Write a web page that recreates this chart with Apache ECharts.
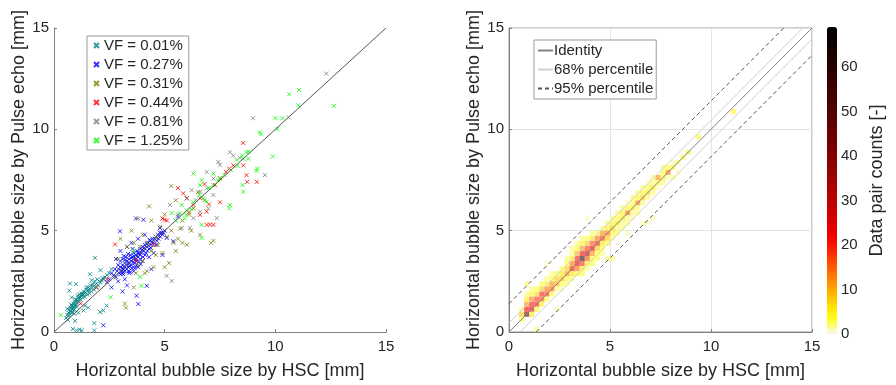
<!DOCTYPE html>
<html>
<head>
<meta charset="utf-8">
<script src="https://cdn.jsdelivr.net/npm/echarts/dist/echarts.min.js"></script>
<style>
html,body{margin:0;padding:0;background:#fff}
#chart{width:896px;height:385px}
</style>
</head>
<body>
<div id="chart"></div>
<script>
// ---- left panel: HSC vs pulse echo, one array per void fraction ----
var vfNames = ['VF = 0.01%', 'VF = 0.27%', 'VF = 0.31%', 'VF = 0.44%', 'VF = 0.81%', 'VF = 1.25%'];
var vfColors = ['#008080', '#0000ff', '#808000', '#ff0000', '#808080', '#00ff00'];

var vf001 = [[0.55,0.7],[0.6,0.85],[0.62,0.6],[0.65,0.95],[0.7,1.1],[0.72,0.9],[0.75,1.2],[0.78,1.05],[0.8,1.3],[0.82,0.95],
  [0.85,1.15],[0.88,1.4],[0.9,1.25],[0.92,1.1],[0.95,1.5],[0.98,1.35],[1.0,1.6],[1.02,1.25],[1.05,1.45],[1.1,1.7],
  [1.12,1.5],[1.15,1.85],[1.2,1.6],[1.25,1.9],[1.3,1.7],[1.35,2.0],[1.4,1.75],[1.45,2.1],[1.5,1.85],[1.55,2.2],
  [1.6,1.9],[1.65,2.3],[1.7,2.0],[1.75,2.35],[1.8,2.1],[1.85,2.5],[1.9,2.2],[1.95,2.6],[2.0,2.3],[2.1,2.45],
  [2.2,2.65],[2.3,2.7],[2.4,2.8],[2.5,2.9],[0.72,2.39],[0.99,2.36],[0.69,2.04],[0.8,1.71],[1.3,1.87],[1.48,2.2],
  [1.63,2.85],[1.85,3.66],[0.92,0.9],[1.33,1.06],[1.02,0.08],[1.25,0.08],[1.82,0.44],[1.82,0.08],[2.08,0.98],[2.23,1.06],
  [2.38,1.3],[1.15,0.12],[0.95,0.55],[1.55,1.2],[1.1,0.95],[2.1,3.05],[0.85,0.15],[1.4,1.3],[2.6,3.1],[1.7,2.55],[0.6,1.15],
  [0.68,0.8],[0.74,1.0],[0.83,1.1],[0.87,1.25],[0.93,1.3],[1.0,1.4],[1.07,1.55],[1.13,1.6],[1.18,1.72],[1.22,1.78],
  [1.28,1.8],[1.33,1.85],[1.38,1.9],[1.43,1.95],[1.52,2.05],[1.58,2.05],[1.68,2.15],[1.78,2.25],[1.88,2.35],[2.05,2.5],
  [2.15,2.55],[2.25,2.6],[0.78,1.35],[0.97,1.6],[1.08,1.8]];
var vf027 = [[2.5,2.6],[2.6,2.9],[2.7,2.8],[2.75,3.1],[2.8,2.7],[2.85,3.0],[2.9,3.3],[2.95,2.9],[3.0,3.2],[3.0,3.5],
  [3.05,3.0],[3.1,3.3],[3.1,3.6],[3.15,3.1],[3.2,3.4],[3.2,3.0],[3.25,3.7],[3.3,3.3],[3.3,3.5],[3.35,3.2],
  [3.4,3.6],[3.4,3.4],[3.45,3.8],[3.5,3.5],[3.5,3.3],[3.55,3.7],[3.6,3.6],[3.6,3.9],[3.65,3.4],[3.7,3.8],
  [3.7,3.6],[3.75,4.0],[3.8,3.7],[3.85,3.9],[3.9,4.1],[3.9,3.6],[3.95,3.9],[4.0,4.2],[4.05,4.0],[4.1,4.3],
  [4.15,3.9],[4.2,4.2],[4.25,4.4],[4.3,4.1],[4.35,4.5],[4.4,4.3],[4.45,4.6],[4.5,4.4],[4.6,4.7],[4.65,4.5],
  [4.7,4.8],[4.8,4.7],[4.85,4.9],[4.9,4.8],[5.0,5.0],[3.2,2.6],[3.4,2.9],[3.6,3.0],[3.8,3.2],[4.0,3.5],
  [4.3,3.7],[4.5,3.9],[2.8,3.6],[3.0,4.0],[3.3,4.2],[3.5,4.4],[3.8,4.6],[4.1,4.8],[2.6,2.2],[2.9,2.5],
  [3.81,1.38],[3.73,1.79],[4.19,2.28],[3.13,2.85],[2.98,4.97],[4.04,5.54],[4.79,5.13],[2.23,0.33],[5.09,4.64],[5.39,4.48],
  [3.7,5.6],[4.4,3.1],[4.9,3.8],[5.6,5.7],[3.3,2.3],[2.4,2.45],[3.1,2.0],
  [2.92,3.1],[3.02,2.85],[3.08,3.15],[3.12,2.95],[3.18,3.25],[3.22,3.55],[3.28,3.1],[3.32,3.4],[3.38,3.0],[3.42,3.25],
  [3.48,3.65],[3.52,3.15],[3.58,3.45],[3.62,3.75],[3.68,3.25],[3.72,3.5],[3.78,3.9],[3.82,3.45],[3.88,3.8],[3.92,3.35],
  [3.98,4.05],[4.02,3.7],[4.08,4.15],[4.12,3.8],[4.18,4.35],[4.22,4.0],[4.28,4.25],[4.32,4.55],[4.38,4.15],[4.42,4.45],
  [4.55,4.6],[4.62,4.3],[4.72,4.6],[4.78,4.9],[4.95,4.9],[3.35,3.85],[3.55,4.1],[3.15,3.75],[3.65,3.15],[3.45,2.95]];
var vf031 = [[3.2,1.4],[3.25,1.2],[3.6,2.2],[4.0,3.5],[4.2,3.0],[4.5,3.2],[4.6,3.8],[5.0,3.2],[5.2,3.4],[5.5,4.0],
  [5.6,4.6],[5.8,4.4],[6.2,5.0],[7.1,4.4],[7.2,4.5],[6.6,4.8],[6.0,4.3],[5.3,7.2],[4.3,6.2],[4.4,5.5],
  [3.8,5.6],[3.5,5.0],[3.0,4.6],[3.3,4.2],[3.6,4.4],[4.0,4.8],[4.8,5.2],[5.0,5.8],[5.5,6.5],[6.0,6.6],
  [6.5,6.9],[2.9,3.6],[2.7,2.7],[3.8,3.3],[4.2,4.4],[4.6,4.7],[5.3,5.0],[5.8,5.5],[6.3,6.1],[6.8,6.5],
  [3.7,2.9],[4.1,2.9],[4.9,3.9],[5.4,4.4],[6.1,5.8],[5.7,5.1],[3.9,4.2],[4.4,4.0],[4.7,4.3],[5.1,4.7]];
var vf044 = [[2.76,4.32],[5.84,6.84],[6.9,5.94],[6.9,5.29],[7.2,5.29],[7.05,5.3],[7.92,8.06],[8.55,8.22],[8.7,7.74],[8.73,7.41],
  [9.16,7.41],[8.55,9.33],[8.1,8.22],[7.77,7.9],[7.5,7.57],[7.27,7.25],[6.6,6.6],[6.3,6.27],[6.0,6.6],[6.6,5.78],
  [5.0,5.54],[1.93,2.2],[3.7,3.5],[5.1,5.5],[5.6,7.1],[7.5,6.4],[4.5,4.3],[6.8,7.3],[2.4,2.6],[1.2,1.4],
  [6.1,5.9],[7.0,6.3],[4.9,5.6]];
var vf081 = [[12.3,12.75],[9.0,10.55],[10.6,10.59],[9.53,7.74],[7.42,8.39],[7.5,8.25],[7.2,7.57],[6.9,7.08],[6.6,6.92],[6.22,7.0],
  [6.0,6.6],[7.2,6.76],[7.35,5.62],[6.97,6.1],[6.6,5.94],[6.3,5.62],[6.14,5.13],[5.77,5.13],[5.09,2.77],[5.32,2.52],
  [5.24,6.27],[5.6,5.8],[1.93,2.2],[6.9,7.9],[8.1,8.71],[7.95,8.87],[8.4,8.6],[6.4,6.5],[3.2,3.4],[2.9,3.1]];
var vf125 = [[10.63,11.73],[11.07,11.94],[11.04,11.19],[12.65,11.16],[10.0,10.55],[10.33,10.55],[10.09,10.02],[9.3,9.85],[9.35,9.75],[9.88,8.66],
  [9.19,8.06],[9.15,7.95],[8.78,8.55],[8.7,8.88],[8.55,8.55],[8.25,8.49],[8.52,7.25],[8.55,6.92],[7.95,6.27],[7.92,6.1],
  [7.42,7.49],[7.2,7.25],[7.2,7.82],[6.67,7.49],[6.6,7.25],[6.3,7.82],[6.57,6.76],[6.75,6.6],[6.9,6.43],[6.67,5.29],
  [6.67,4.64],[5.99,5.78],[5.69,5.86],[5.32,5.86],[5.77,6.27],[3.89,2.72],[0.3,0.83],[2.56,1.71],[3.95,2.28],[5.5,5.5],
  [6.0,6.0],[6.3,6.4],[7.0,7.1],[7.5,7.6],[8.0,8.0],[8.5,8.7],[8.8,8.9],[5.9,5.6],[6.2,6.05],[7.7,7.75],[8.3,8.2],[3.6,4.0]];
var vfSeries = [vf001, vf027, vf031, vf044, vf081, vf125];

// ---- right panel: 2D histogram, [bin x, bin y, count], bins 0.25 mm ----
var BIN = 0.25;
var heatCells = [
  [0.5,0.5,3],[0.5,0.75,8],[0.5,1.0,2],
  [0.75,0.75,45],[0.75,1.0,22],[0.75,1.25,12],[0.75,1.5,5],[0.75,1.75,2],[0.75,2.25,2],
  [1.0,1.0,25],[1.0,1.25,20],[1.0,1.5,14],[1.0,0.75,6],[1.0,1.75,4],[1.0,2.0,2],
  [1.25,1.25,20],[1.25,1.5,18],[1.25,1.75,6],[1.25,1.0,4],[1.25,0.0,2],[1.25,2.0,3],
  [1.5,1.5,16],[1.5,1.75,20],[1.5,2.0,8],[1.5,1.25,5],[1.5,2.25,3],
  [1.75,1.75,18],[1.75,2.0,14],[1.75,2.25,4],[1.75,1.5,3],[1.75,3.25,1],[1.75,2.5,2],
  [2.0,2.0,15],[2.0,2.25,12],[2.0,1.75,3],[2.0,2.5,3],[2.0,2.75,2],
  [2.25,2.25,10],[2.25,2.5,8],[2.25,2.0,2],[2.25,1.0,1],[2.25,2.75,3],
  [2.5,2.5,9],[2.5,2.75,6],[2.5,2.25,3],[2.5,3.0,3],[2.5,2.0,1],
  [2.75,2.75,12],[2.75,3.0,8],[2.75,2.5,4],[2.75,3.25,3],[2.75,2.25,2],[2.75,3.5,2],
  [3.0,3.0,20],[3.0,3.25,14],[3.0,2.75,6],[3.0,3.5,5],[3.0,2.5,2],[3.0,3.75,2],[3.0,4.0,2],
  [3.25,3.25,25],[3.25,3.5,20],[3.25,3.0,14],[3.25,3.75,10],[3.25,2.75,4],[3.25,4.0,3],[3.25,4.25,2],
  [3.5,3.5,60],[3.5,3.75,22],[3.5,3.25,18],[3.5,4.0,12],[3.5,3.0,5],[3.5,4.25,4],[3.5,4.5,2],[3.5,2.75,3],
  [3.75,3.75,28],[3.75,4.0,18],[3.75,3.5,16],[3.75,4.25,8],[3.75,3.25,4],[3.75,5.5,1],[3.75,3.0,2],[3.75,4.5,3],
  [4.0,4.0,22],[4.0,4.25,16],[4.0,3.75,12],[4.0,4.5,5],[4.0,3.5,3],[4.0,4.75,2],[4.0,3.25,3],
  [4.25,4.25,20],[4.25,4.5,14],[4.25,4.0,8],[4.25,3.75,3],[4.25,3.5,3],[4.25,4.75,3],
  [4.5,4.5,18],[4.5,4.75,12],[4.5,4.25,6],[4.5,3.75,2],[4.5,4.0,3],[4.5,5.0,2],
  [4.75,4.75,14],[4.75,4.5,8],[4.75,5.0,5],[4.75,3.5,2],[4.75,4.25,3],[4.75,5.25,2],
  [5.0,5.0,8],[5.0,5.25,4],[5.0,4.75,4],[5.0,3.5,2],[5.0,4.5,2],[5.0,5.5,2],
  [5.25,5.25,6],[5.25,5.5,3],[5.25,5.0,2],[5.25,4.75,2],[5.25,5.75,2],
  [5.5,5.5,6],[5.5,5.75,5],[5.5,5.25,2],[5.5,5.0,2],[5.5,6.0,2],
  [5.75,5.75,14],[5.75,6.0,4],[5.75,5.5,2],[5.75,4.75,1],[5.75,5.25,2],[5.75,6.25,1],
  [6.0,6.0,5],[6.0,6.25,3],[6.0,5.75,2],[6.0,5.5,1],[6.0,6.5,2],
  [6.25,6.25,13],[6.25,6.5,4],[6.25,6.0,2],[6.25,5.75,2],[6.25,6.75,2],
  [6.5,6.5,8],[6.5,6.75,4],[6.5,5.25,1],[6.5,6.25,2],[6.5,7.0,2],
  [6.75,6.75,6],[6.75,7.0,3],[6.75,5.25,1],[6.75,6.5,2],[6.75,7.25,1],
  [7.0,7.0,5],[7.0,7.25,2],[7.0,5.5,1],[7.0,6.75,2],[7.0,7.5,2],
  [7.25,7.5,12],[7.25,7.25,3],[7.25,7.0,1],
  [7.5,7.5,4],[7.5,7.75,3],[7.5,7.25,2],[7.5,8.0,2],
  [7.75,7.75,13],[7.75,8.0,3],[7.75,7.5,1],
  [8.0,8.0,3],[8.0,7.5,2],[8.0,8.25,1],[8.25,8.25,2],[8.25,7.75,1],
  [8.5,8.5,3],[8.75,8.75,4],[9.25,9.5,3],[11.0,10.75,4]
];
var countMax = 69;
var countTicks = 10;
var hotColors = ['#f8f8f0','#ffff20','#ffe000','#ffb000','#ff8000','#ff5000','#ff2000','#f00000','#e00000','#c80000',
  '#b40000','#a00000','#900000','#800000','#700000','#600000','#500000','#440000','#380000','#280000','#1a0000','#0c0000','#000000'];

// reference lines (end points)
var identityLine = [[0,0],[15,15]];
var p68Upper = [[0,0.45],[14.55,15]];
var p68Lower = [[0.55,0],[15,14.45]];
var p95Upper = [[0,1.4],[13.6,15]];
var p95Lower = [[1.35,0],[15,13.65]];

var FONT = "'Liberation Sans', Arial, sans-serif";
var TXT = '#262626';

function valueAxis(idx, name, extra){
  var ax = {
    type:'value', gridIndex:idx, min:0, max:15, interval:5,
    name:name, nameLocation:'middle',
    nameTextStyle:{fontSize:18, color:TXT, fontFamily:FONT},
    axisLine:{show:true, lineStyle:{color:'#808080', width:1}},
    axisTick:{show:true, inside:true, length:3, lineStyle:{color:'#808080'}},
    axisLabel:{fontSize:15, color:TXT, fontFamily:FONT},
    splitLine:{show:false}
  };
  for (var k in extra) ax[k] = extra[k];
  return ax;
}

var series = [];
for (var i = 0; i < vfSeries.length; i++) {
  series.push({
    name: vfNames[i], type:'scatter', xAxisIndex:0, yAxisIndex:0,
    symbol:'path://M0,0L8,8M8,0L0,8', symbolSize:4,
    itemStyle:{color:vfColors[i], borderColor:vfColors[i], borderWidth:1},
    data: vfSeries[i]
  });
}
series.push({
  type:'line', xAxisIndex:0, yAxisIndex:0, symbol:'none', silent:true,
  lineStyle:{color:'#555', width:1}, data:identityLine
});

// histogram cells
var heatIndex = series.length;
series.push({
  type:'custom', xAxisIndex:1, yAxisIndex:1, data:heatCells,
  renderItem:function(params, api){
    var p0 = api.coord([api.value(0), api.value(1)]);
    var p1 = api.coord([api.value(0) + BIN, api.value(1) + BIN]);
    return {type:'rect',
      shape:{x:p0[0], y:p1[1], width:p1[0] - p0[0], height:p0[1] - p1[1]},
      style:{fill:api.visual('color'), opacity:0.6}};
  }
});
function refLine(name, data, style){
  return {name:name, type:'line', xAxisIndex:1, yAxisIndex:1, symbol:'none', silent:true,
    itemStyle:{color:style.color}, lineStyle:style, data:data};
}
series.push(refLine('Identity', identityLine, {color:'#808080', width:1}));
series.push(refLine('68% percentile', p68Upper, {color:'#d0d0d0', width:1}));
series.push(refLine('68% percentile', p68Lower, {color:'#d0d0d0', width:1}));
series.push(refLine('95% percentile', p95Upper, {color:'#555', width:1, type:[4,3]}));
series.push(refLine('95% percentile', p95Lower, {color:'#555', width:1, type:[4,3]}));

var option = {
  animation:false,
  backgroundColor:'#fff',
  textStyle:{fontFamily:FONT},
  grid:[
    {left:54, top:28, width:332, height:307},
    {left:509, top:28, width:303, height:307, show:true, borderColor:'#999', borderWidth:1},
    {left:827, top:27, width:10, height:307}
  ],
  xAxis:[
    valueAxis(0, 'Horizontal bubble size by HSC [mm]', {nameGap:30, axisLabel:{fontSize:15, color:TXT, fontFamily:FONT, margin:7}}),
    valueAxis(1, 'Horizontal bubble size by HSC [mm]', {nameGap:30, axisLabel:{fontSize:15, color:TXT, fontFamily:FONT, margin:7},
      splitLine:{show:true, lineStyle:{color:'#e4e4e4'}}}),
    {type:'value', gridIndex:2, show:false}
  ],
  yAxis:[
    valueAxis(0, 'Horizontal bubble size by Pulse echo [mm]', {nameGap:25, axisLabel:{fontSize:15, color:TXT, fontFamily:FONT, margin:5}}),
    valueAxis(1, 'Horizontal bubble size by Pulse echo [mm]', {nameGap:25, axisLabel:{fontSize:15, color:TXT, fontFamily:FONT, margin:5},
      splitLine:{show:true, lineStyle:{color:'#e4e4e4'}}}),
    {type:'value', gridIndex:2, position:'right', min:0, max:countMax, interval:countTicks,
      name:'Data pair counts [-]', nameLocation:'middle', nameRotate:90, nameGap:31,
      nameTextStyle:{fontSize:18, color:TXT, fontFamily:FONT},
      axisLine:{show:false}, axisTick:{show:false}, splitLine:{show:false},
      axisLabel:{fontSize:15, color:TXT, fontFamily:FONT, margin:4, showMaxLabel:false}}
  ],
  legend:[
    {data:vfNames, orient:'vertical', left:87, top:36, padding:[2,6,2,6], itemGap:4,
      itemWidth:5, itemHeight:5, borderColor:'#999', borderWidth:1, backgroundColor:'#fff',
      selectedMode:false, textStyle:{fontSize:15, color:TXT, fontFamily:FONT}},
    {data:['Identity','68% percentile','95% percentile'], orient:'vertical', left:534, top:40,
      padding:[3,3,3,3], itemGap:4, itemWidth:15, itemHeight:10, borderColor:'#999', borderWidth:1,
      itemStyle:{opacity:0},
      backgroundColor:'#fff', selectedMode:false, textStyle:{fontSize:15, color:TXT, fontFamily:FONT, padding:[0,0,0,-4]}}
  ],
  visualMap:{
    type:'continuous', min:0, max:countMax, dimension:2, seriesIndex:heatIndex,
    calculable:false, hoverLink:false, left:827, top:27, padding:0,
    itemWidth:10, itemHeight:307, text:null, showLabel:false,
    inRange:{color:hotColors}
  },
  series:series
};

var myChart = echarts.init(document.getElementById('chart'));
myChart.setOption(option);
</script>
</body>
</html>
